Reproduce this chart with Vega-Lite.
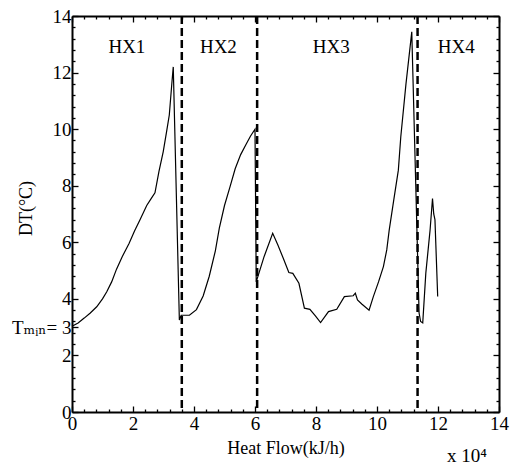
{
  "$schema": "https://vega.github.io/schema/vega-lite/v6.json",
  "width": 427,
  "height": 396,
  "autosize": "none",
  "padding": {"left": 72, "top": 16, "right": 12, "bottom": 53},
  "background": "white",
  "config": {
    "view": {"stroke": null},
    "font": "Liberation Serif, DejaVu Serif, serif",
    "axis": {
      "grid": false,
      "domainColor": "black",
      "domainWidth": 2,
      "tickColor": "black",
      "tickWidth": 1.3,
      "labelFont": "Liberation Serif, DejaVu Serif, serif",
      "labelFontSize": 19,
      "labelColor": "black",
      "labelOverlap": false,
      "labelFlush": false,
      "titleFont": "Liberation Serif, DejaVu Serif, serif",
      "titleFontSize": 18,
      "titleFontWeight": "normal",
      "titleColor": "black"
    }
  },
  "datasets": {
    "curve": [
      {"q": 0, "dt": 3.03}, {"q": 0.2, "dt": 3.15}, {"q": 0.4, "dt": 3.32}, {"q": 0.6, "dt": 3.5},
      {"q": 0.81, "dt": 3.72}, {"q": 1.0, "dt": 4.0}, {"q": 1.14, "dt": 4.25}, {"q": 1.3, "dt": 4.6},
      {"q": 1.46, "dt": 5.05}, {"q": 1.65, "dt": 5.5}, {"q": 1.87, "dt": 5.96}, {"q": 2.05, "dt": 6.4},
      {"q": 2.23, "dt": 6.8}, {"q": 2.45, "dt": 7.3}, {"q": 2.6, "dt": 7.55}, {"q": 2.72, "dt": 7.75},
      {"q": 2.85, "dt": 8.5}, {"q": 2.99, "dt": 9.2}, {"q": 3.1, "dt": 9.9}, {"q": 3.19, "dt": 10.5},
      {"q": 3.28, "dt": 11.7}, {"q": 3.32, "dt": 12.2}, {"q": 3.52, "dt": 3.25},
      {"q": 3.58, "dt": 3.42}, {"q": 3.85, "dt": 3.42}, {"q": 4.08, "dt": 3.62}, {"q": 4.3, "dt": 4.1},
      {"q": 4.5, "dt": 4.8}, {"q": 4.7, "dt": 5.7}, {"q": 4.83, "dt": 6.5}, {"q": 5.0, "dt": 7.3},
      {"q": 5.18, "dt": 7.96}, {"q": 5.35, "dt": 8.6}, {"q": 5.53, "dt": 9.1}, {"q": 5.7, "dt": 9.45},
      {"q": 5.85, "dt": 9.75}, {"q": 6.0, "dt": 10.0}, {"q": 6.04, "dt": 4.6},
      {"q": 6.3, "dt": 5.5}, {"q": 6.58, "dt": 6.32}, {"q": 6.75, "dt": 5.9}, {"q": 6.93, "dt": 5.43},
      {"q": 7.11, "dt": 4.93}, {"q": 7.24, "dt": 4.9}, {"q": 7.44, "dt": 4.55}, {"q": 7.62, "dt": 3.67},
      {"q": 7.8, "dt": 3.63}, {"q": 7.98, "dt": 3.4}, {"q": 8.15, "dt": 3.16}, {"q": 8.41, "dt": 3.55},
      {"q": 8.68, "dt": 3.63}, {"q": 8.93, "dt": 4.08}, {"q": 9.22, "dt": 4.11}, {"q": 9.29, "dt": 4.2},
      {"q": 9.36, "dt": 3.96}, {"q": 9.5, "dt": 3.82}, {"q": 9.74, "dt": 3.6}, {"q": 9.88, "dt": 4.08},
      {"q": 10.05, "dt": 4.6}, {"q": 10.21, "dt": 5.14}, {"q": 10.32, "dt": 5.73}, {"q": 10.4, "dt": 6.43},
      {"q": 10.55, "dt": 7.5}, {"q": 10.7, "dt": 8.55}, {"q": 10.78, "dt": 9.73}, {"q": 10.95, "dt": 11.6},
      {"q": 11.14, "dt": 13.44}, {"q": 11.38, "dt": 3.5}, {"q": 11.43, "dt": 3.2}, {"q": 11.5, "dt": 3.15},
      {"q": 11.6, "dt": 4.9}, {"q": 11.74, "dt": 6.43}, {"q": 11.82, "dt": 7.55}, {"q": 11.86, "dt": 7.0},
      {"q": 11.9, "dt": 6.8}, {"q": 11.99, "dt": 4.08}
    ],
    "bounds": [{"b": 3.6}, {"b": 6.07}, {"b": 11.33}],
    "labels": [
      {"hx": "HX1", "q": 1.8, "dt": 12.9},
      {"hx": "HX2", "q": 4.8, "dt": 12.9},
      {"hx": "HX3", "q": 8.5, "dt": 12.9},
      {"hx": "HX4", "q": 12.6, "dt": 12.9}
    ],
    "unit": [{"t": "x 10⁴"}]
  },
  "layer": [
    {
      "data": {"name": "curve"},
      "mark": {"type": "line", "color": "black", "strokeWidth": 1.2},
      "encoding": {
        "x": {
          "field": "q", "type": "quantitative",
          "scale": {"domain": [0, 14], "nice": false, "zero": false},
          "axis": {
            "orient": "bottom",
            "title": "Heat Flow(kJ/h)",
            "titlePadding": 6,
            "values": [0,2,4,6,8,10,12,14],
            "format": "d",
            "tickSize": -6,
            "labelPadding": 8
          }
        },
        "y": {
          "field": "dt", "type": "quantitative",
          "scale": {"domain": [0, 14], "nice": false, "zero": false},
          "axis": {
            "orient": "left",
            "title": "DT(°C)",
            "titleX": -37,
            "titleY": 192,
            "values": [0,2,3,4,6,8,10,12,14],
            "labelExpr": "datum.value == 3 ? 'Tₘᵢₙ= 3' : format(datum.value, 'd')",
            "tickSize": -6,
            "labelPadding": 7
          }
        }
      }
    },
    {
      "data": {"name": "labels"},
      "mark": {"type": "text", "font": "Liberation Serif, DejaVu Serif, serif", "fontSize": 19, "color": "black"},
      "encoding": {
        "x": {
          "field": "q", "type": "quantitative",
          "scale": {"domain": [0, 14], "nice": false, "zero": false},
          "axis": {"orient": "top", "title": null, "labels": false, "values": [0,2,4,6,8,10,12,14], "tickSize": -6}
        },
        "y": {
          "field": "dt", "type": "quantitative",
          "scale": {"domain": [0, 14], "nice": false, "zero": false},
          "axis": {"orient": "right", "title": null, "labels": false, "values": [0,2,4,6,8,10,12,14], "tickSize": -6}
        },
        "text": {"field": "hx"}
      }
    },
    {
      "data": {"name": "bounds"},
      "mark": {"type": "rule", "color": "black", "strokeWidth": 2.5, "strokeDash": [8, 4]},
      "encoding": {
        "x": {
          "field": "b", "type": "quantitative",
          "scale": {"domain": [0, 14], "nice": false, "zero": false},
          "axis": {"orient": "bottom", "title": null, "labels": false, "domain": false, "tickSize": -3,
            "values": [0.4,0.8,1.2,1.6,2.4,2.8,3.2,3.6,4.4,4.8,5.2,5.6,6.4,6.8,7.2,7.6,8.4,8.8,9.2,9.6,10.4,10.8,11.2,11.6,12.4,12.8,13.2,13.6]}
        }
      }
    },
    {
      "mark": {"type": "rule", "color": "black", "strokeWidth": 2.5, "strokeDash": [8, 4]},
      "encoding": {
        "y": {
          "datum": 3, "type": "quantitative",
          "scale": {"domain": [0, 14], "nice": false, "zero": false},
          "axis": {"orient": "left", "title": null, "labels": false, "domain": false, "tickSize": -3,
            "values": [0.4,0.8,1.2,1.6,2.4,2.8,3.2,3.6,4.4,4.8,5.2,5.6,6.4,6.8,7.2,7.6,8.4,8.8,9.2,9.6,10.4,10.8,11.2,11.6,12.4,12.8,13.2,13.6]}
        }
      }
    },
    {
      "data": {"name": "unit"},
      "mark": {"type": "text", "font": "Liberation Serif, DejaVu Serif, serif", "fontSize": 19, "color": "black", "baseline": "alphabetic", "clip": false},
      "encoding": {
        "x": {
          "datum": 12.95, "type": "quantitative",
          "scale": {"domain": [0, 14], "nice": false, "zero": false},
          "axis": {"orient": "top", "title": null, "labels": false, "domain": false, "tickSize": -3,
            "values": [0.4,0.8,1.2,1.6,2.4,2.8,3.2,3.6,4.4,4.8,5.2,5.6,6.4,6.8,7.2,7.6,8.4,8.8,9.2,9.6,10.4,10.8,11.2,11.6,12.4,12.8,13.2,13.6]}
        },
        "y": {
          "datum": -1.75, "type": "quantitative",
          "scale": {"domain": [0, 14], "nice": false, "zero": false},
          "axis": {"orient": "right", "title": null, "labels": false, "domain": false, "tickSize": -3,
            "values": [0.4,0.8,1.2,1.6,2.4,2.8,3.2,3.6,4.4,4.8,5.2,5.6,6.4,6.8,7.2,7.6,8.4,8.8,9.2,9.6,10.4,10.8,11.2,11.6,12.4,12.8,13.2,13.6]}
        },
        "text": {"field": "t"}
      }
    }
  ]
}
